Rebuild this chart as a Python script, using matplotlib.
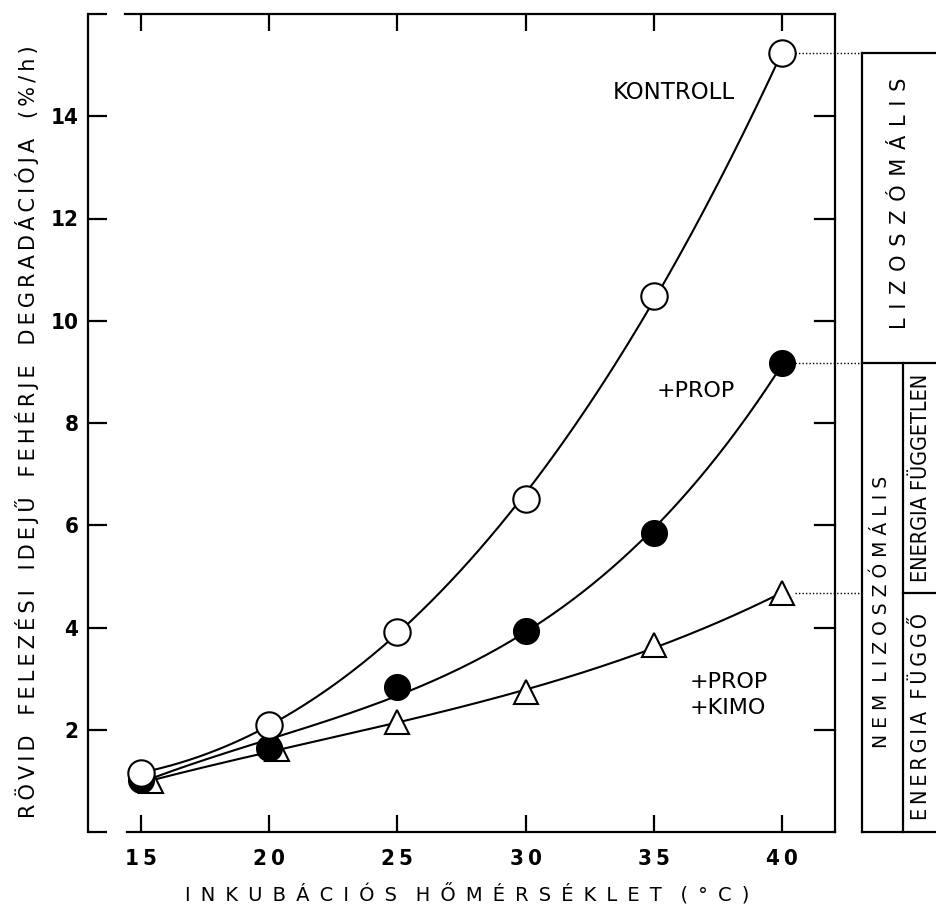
import numpy as np
import matplotlib
matplotlib.use("Agg")
import matplotlib.pyplot as plt
import matplotlib.transforms as mtransforms

# Data
temp = [15, 20, 25, 30, 35, 40]
kontroll = [1.15, 2.1, 3.92, 6.52, 10.49, 15.23]
prop = [1.02, 1.64, 2.83, 3.93, 5.84, 9.18]
kimo_temp = [15.4, 20.3, 25, 30, 35, 40]
prop_kimo = [1.0, 1.62, 2.15, 2.73, 3.65, 4.67]

xticks = [15, 20, 25, 30, 35, 40]
yticks = [2, 4, 6, 8, 10, 12, 14]


def spaced(s, sep=" ", gap="   "):
    return gap.join(sep.join(w) for w in s.split(" "))


fig = plt.figure(figsize=(9.37, 9.18), dpi=100)
ax = fig.add_axes([88 / 937, 86 / 918, 747 / 937, 818 / 918])
ax.set_xlim(12.94, 42.06)
ax.set_ylim(0, 16)

for sp in ax.spines.values():
    sp.set_linewidth(1.6)
ax.spines["bottom"].set_bounds(14.45, 42.06)
ax.spines["top"].set_bounds(14.4, 42.06)

tick_font = dict(fontsize=16, fontweight="bold", fontstretch="condensed")
ax.set_xticks(xticks)
ax.set_xticklabels([spaced(str(t), "\u2009") for t in xticks], **tick_font)
ax.set_yticks(range(0, 17, 2))
ax.set_yticklabels([str(t) if t in yticks else "" for t in range(0, 17, 2)],
                   **tick_font)
ax.tick_params(axis="both", direction="in", length=14, width=1.6,
               top=True, right=False)
ax.tick_params(axis="x", length=12, pad=12)
ax.tick_params(axis="y", pad=7)

# right-side ticks only 2..14
tr_axy = mtransforms.blended_transform_factory(ax.transAxes, ax.transData)
for t in yticks:
    ax.plot([1, 1 - 20 / 747], [t, t], color="black", lw=1.6,
            transform=tr_axy, clip_on=False)


def smooth(x, y):
    c = np.polyfit(x, y, 3)
    xs = np.linspace(min(x), max(x), 200)
    return xs, np.polyval(c, xs)


for x, y in [(kimo_temp, prop_kimo), (temp, prop), (temp, kontroll)]:
    xs, ys = smooth(x, y)
    ax.plot(xs, ys, color="black", lw=1.5, zorder=2)

ax.plot(kimo_temp, prop_kimo, linestyle="none", marker="^", ms=17,
        mfc="white", mec="black", mew=1.5, zorder=3, clip_on=False)
ax.plot(temp, prop, linestyle="none", marker="o", ms=18,
        mfc="black", mec="black", mew=1.5, zorder=4, clip_on=False)
ax.plot(temp, kontroll, linestyle="none", marker="o", ms=19,
        mfc="white", mec="black", mew=1.5, zorder=5, clip_on=False)

# curve labels
ax.text(35.78, 14.47, "KONTROLL", fontsize=16.5, ha="center", va="center")
ax.text(36.64, 8.63, "+PROP", fontsize=16, ha="center", va="center")
ax.text(37.93, 2.68, "+PROP\n+KIMO", fontsize=16, ha="center", va="center",
        multialignment="left", linespacing=1.4)

# dotted connectors from the 40 °C points to the side table
x_tab = (862 - 88) / 747
x_inner = (903 - 88) / 747
x_end = 1.2
for yv in [kontroll[-1], prop[-1], prop_kimo[-1]]:
    ax.plot([(782 - 88) / 747 + 0.018, x_tab], [yv, yv], color="black",
            lw=1.0, ls=(0, (1, 1.5)), transform=tr_axy, clip_on=False,
            zorder=1)

lk = dict(color="black", lw=1.6, transform=tr_axy, clip_on=False)
ax.plot([x_tab, x_end], [kontroll[-1], kontroll[-1]], **lk)
ax.plot([x_tab, x_end], [prop[-1], prop[-1]], **lk)
ax.plot([x_tab, x_end], [0, 0], **lk)
ax.plot([x_tab, x_tab], [0, kontroll[-1]], **lk)
ax.plot([x_inner, x_inner], [0, prop[-1]], **lk)
ax.plot([x_inner, x_end], [prop_kimo[-1], prop_kimo[-1]], **lk)

ax.text((900 - 88) / 747, 12.3, spaced("LIZOSZÓMÁLIS", " \u200a"),
        rotation=90, ha="center", va="center", fontsize=15, transform=tr_axy)
ax.text((882 - 88) / 747, 4.3, spaced("NEM LIZOSZÓMÁLIS", " ", "  "),
        rotation=90, ha="center", va="center", fontsize=13.5, transform=tr_axy)
ax.text((921 - 88) / 747, 6.92, "ENERGIA FÜGGETLEN",
        rotation=90, ha="center", va="center", fontsize=15.5,
        fontstretch="condensed", transform=tr_axy)
ax.text((921 - 88) / 747, 2.25, spaced("ENERGIA FÜGGŐ", "\u2009", "  "),
        rotation=90, ha="center", va="center", fontsize=15.5,
        fontstretch="condensed", transform=tr_axy)

fig.text(467 / 937, 1 - 895 / 918, spaced("INKUBÁCIÓS HŐMÉRSÉKLET (°C)", " \u2009", "   "),
         fontsize=14, ha="center", va="center")
fig.text(27 / 937, 1 - 432 / 918,
         spaced("RÖVID FELEZÉSI IDEJŰ FEHÉRJE DEGRADÁCIÓJA (%/h)", "\u2009", "   "),
         fontsize=15, rotation=90, ha="center", va="center")

fig.savefig("out.png", dpi=100)
